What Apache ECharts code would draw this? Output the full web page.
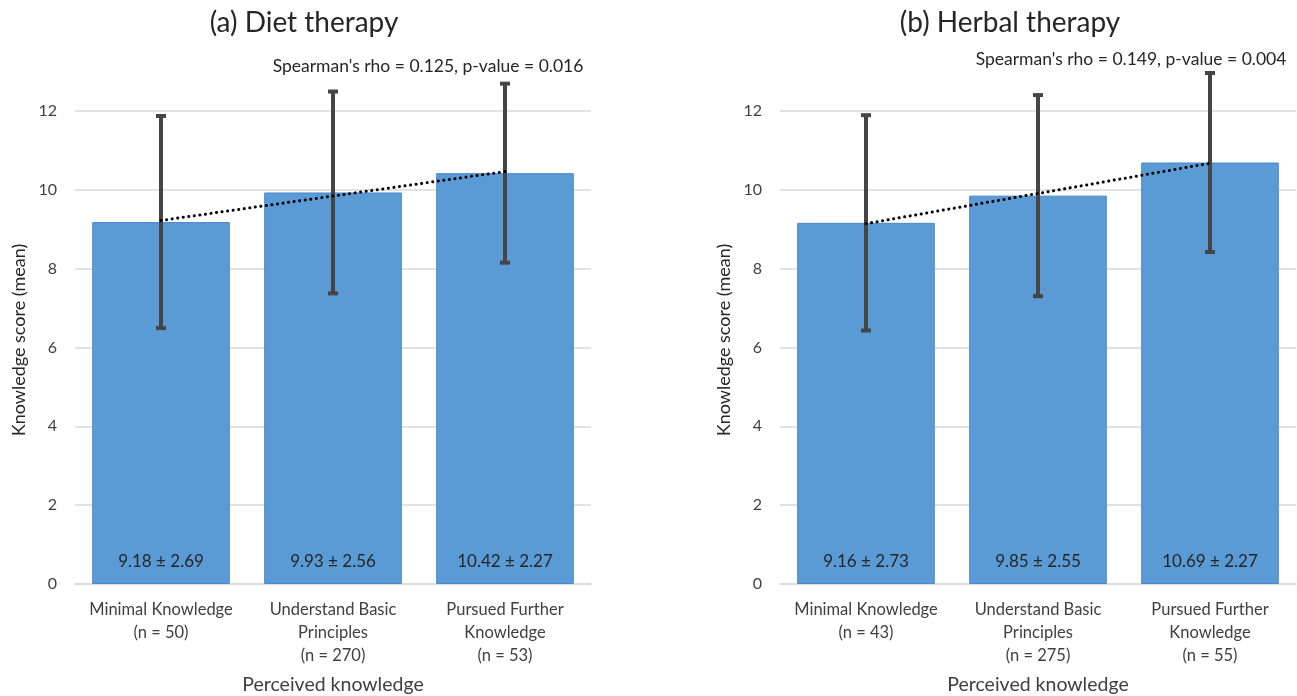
<!DOCTYPE html>
<html><head><meta charset="utf-8">
<script src="https://cdn.jsdelivr.net/npm/echarts@6/dist/echarts.min.js"></script>
<style>html,body{margin:0;padding:0;background:#fff}#c{width:1297px;height:696px}</style>
</head><body><div id="c"></div>
<script>
const dietCategories = ['Minimal Knowledge\n(n = 50)', 'Understand Basic\nPrinciples\n(n = 270)', 'Pursued Further\nKnowledge\n(n = 53)'];
const herbalCategories = ['Minimal Knowledge\n(n = 43)', 'Understand Basic\nPrinciples\n(n = 275)', 'Pursued Further\nKnowledge\n(n = 55)'];
const dietMeans = [9.18, 9.93, 10.42];
const dietSD = [2.69, 2.56, 2.27];
const herbalMeans = [9.16, 9.85, 10.69];
const herbalSD = [2.73, 2.55, 2.27];
const dietTrend = [9.22, null, 10.46];
const herbalTrend = [9.14, null, 10.67];
const yTicks = [0, 2, 4, 6, 8, 10, 12];
const titles = ['(a) Diet therapy', '(b) Herbal therapy'];
const stats = ["Spearman's rho = 0.125, p-value = 0.016", "Spearman's rho = 0.149, p-value = 0.004"];
const xName = 'Perceived knowledge';
const yName = 'Knowledge score (mean)';

const FONT = 'Lato';
const TXT = '#404040';
const chart = echarts.init(document.getElementById('c'));

function xAxis(idx, cats) {
  return {
    type: 'category', gridIndex: idx, data: cats,
    axisLine: {lineStyle: {color: '#d9d9d9', width: 1.5}},
    axisTick: {show: false},
    axisLabel: {interval: 0, fontFamily: FONT, fontSize: 16.5, color: TXT, lineHeight: 23, margin: 14},
    name: xName, nameLocation: 'middle', nameGap: 91,
    nameTextStyle: {fontFamily: FONT, fontSize: 19.5, color: TXT}
  };
}
function yAxis(idx) {
  return {
    type: 'value', gridIndex: idx, min: 0, max: 14, interval: 2,
    axisLine: {show: false}, axisTick: {show: false},
    axisLabel: {fontFamily: FONT, fontSize: 16, color: TXT, margin: 18, showMaxLabel: false,
      formatter: v => yTicks.includes(v) ? String(v) : ''},
    splitLine: {lineStyle: {color: '#d9d9d9', width: 1.5}, showMaxLine: false}
  };
}
function bars(idx, means, sds) {
  return {
    type: 'bar', xAxisIndex: idx, yAxisIndex: idx, data: means, barWidth: '80%',
    itemStyle: {color: '#5b9bd5', borderColor: '#4a88c7', borderWidth: 1},
    label: {show: true, position: 'insideBottom', distance: 14, fontFamily: FONT, fontSize: 17, color: '#262626',
      formatter: p => p.value.toFixed(2) + ' \u00b1 ' + sds[p.dataIndex].toFixed(2)},
    z: 2
  };
}
function errs(idx, means, sds) {
  return {
    type: 'custom', xAxisIndex: idx, yAxisIndex: idx,
    data: means.map((m, i) => [i, m - sds[i], m + sds[i]]),
    renderItem: (params, api) => {
      const lo = api.coord([api.value(0), api.value(1)]);
      const hi = api.coord([api.value(0), api.value(2)]);
      const w = 5;
      const st = {stroke: '#454545', lineWidth: 4};
      return {type: 'group', children: [
        {type: 'line', shape: {x1: lo[0], y1: lo[1], x2: hi[0], y2: hi[1]}, style: st},
        {type: 'line', shape: {x1: lo[0] - w, y1: lo[1], x2: lo[0] + w, y2: lo[1]}, style: st},
        {type: 'line', shape: {x1: hi[0] - w, y1: hi[1], x2: hi[0] + w, y2: hi[1]}, style: st}
      ]};
    },
    z: 4
  };
}
function trend(idx, vals) {
  return {
    type: 'line', xAxisIndex: idx, yAxisIndex: idx, data: vals, connectNulls: true,
    symbol: 'none', lineStyle: {color: '#000', width: 3, type: [0.1, 5.5], cap: 'round'}, z: 5
  };
}
function txt(text, x, y, size, rot) {
  return {type: 'text', x: x, y: y, rotation: rot || 0,
    style: {text: text, fontFamily: FONT, fontSize: size, fill: '#262626', align: 'center', verticalAlign: 'middle'}};
}

chart.setOption({
  animation: false,
  graphic: [
    txt(titles[0], 304, 23, 28),
    txt(titles[1], 1010, 23, 28),
    txt(stats[0], 428, 66, 17.5),
    txt(stats[1], 1131, 59, 17.5),
    Object.assign(txt(yName, 19, 340, 18, Math.PI / 2), {}),
    txt(yName, 724, 340, 18, Math.PI / 2)
  ],
  grid: [
    {left: 75, right: 706, top: 32, bottom: 112, outerBoundsMode: 'none'},
    {left: 780, right: 1, top: 32, bottom: 112, outerBoundsMode: 'none'}
  ],
  xAxis: [xAxis(0, dietCategories), xAxis(1, herbalCategories)],
  yAxis: [yAxis(0), yAxis(1)],
  series: [
    bars(0, dietMeans, dietSD), errs(0, dietMeans, dietSD), trend(0, dietTrend),
    bars(1, herbalMeans, herbalSD), errs(1, herbalMeans, herbalSD), trend(1, herbalTrend)
  ]
});
</script></body></html>
